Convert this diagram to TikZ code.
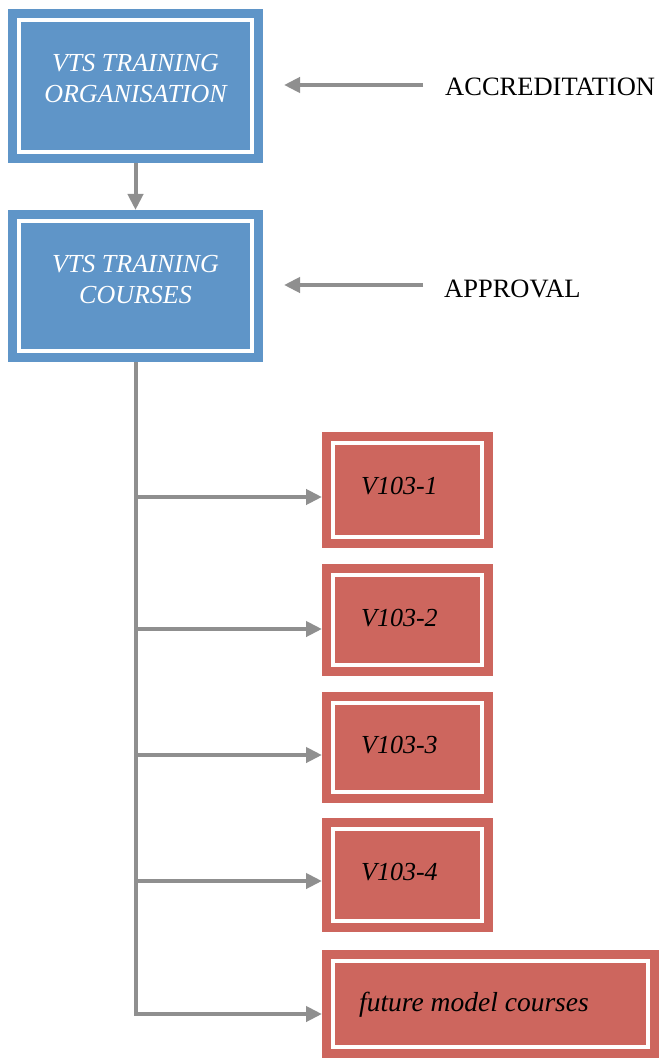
\documentclass[tikz,border=0pt]{standalone}
\usepackage{fontspec}
\setmainfont{Liberation Serif}
\usetikzlibrary{arrows.meta}
\definecolor{boxblue}{HTML}{5F95C8}
\definecolor{boxred}{HTML}{CD665E}
\definecolor{linegray}{HTML}{8F8F8F}
\tikzset{
  framed/.style={inner sep=0pt, outer sep=0pt,
    path picture={\draw[white,line width=4pt]
      ([shift={(11pt,-11pt)}]path picture bounding box.north west) rectangle
      ([shift={(-11pt,11pt)}]path picture bounding box.south east);}},
  bluebox/.style={framed, fill=boxblue},
  redbox/.style={framed, fill=boxred},
  btext/.style={text=white, inner sep=0pt, anchor=base, font=\fontsize{26}{31}\selectfont\itshape},
  rtext/.style={text=black, inner sep=0pt, anchor=base west, font=\fontsize{26}{31}\selectfont\itshape},
  ptext/.style={text=black, inner sep=0pt, anchor=base west, font=\fontsize{26.5}{31}\selectfont},
  conn/.style={draw=linegray, line width=4pt, line join=miter, -{Triangle[length=16pt,width=15pt]}}
}
\begin{document}
\begin{tikzpicture}[x=1pt,y=-1pt]
\path[use as bounding box] (0,0) rectangle (660,1059);
% blue boxes
\node[bluebox, minimum width=255pt, minimum height=154pt] (b1) at (135.5,86) {};
\node[bluebox, minimum width=255pt, minimum height=152pt] (b2) at (135.5,286) {};
\node[btext] (t1a) at (135.5,72) {VTS TRAINING};
\node[btext] (t1b) at (135.5,103) {ORGANISATION};
\node[btext] (t2a) at (135.5,272) {VTS TRAINING};
\node[btext] (t2b) at (135.5,303) {COURSES};
% side labels
\node[ptext] (acc) at (445,96) {ACCREDITATION};
\node[ptext] (app) at (444,297) {APPROVAL};
\coordinate (a1s) at (423,85);
\coordinate (a1e) at (284,85);
\coordinate (a2s) at (423,285);
\coordinate (a2e) at (284,285);
\draw[conn] (a1s) -- (a1e);
\draw[conn] (a2s) -- (a2e);
\draw[conn] (b1.south) -- (b2.north);
% red boxes
\node[redbox, minimum width=171pt, minimum height=116pt] (v1) at (407.5,490) {};
\node[redbox, minimum width=171pt, minimum height=112pt] (v2) at (407.5,620) {};
\node[redbox, minimum width=171pt, minimum height=111pt] (v3) at (407.5,747.5) {};
\node[redbox, minimum width=171pt, minimum height=114pt] (v4) at (407.5,875) {};
\node[redbox, minimum width=337pt, minimum height=108pt] (fut) at (490.5,1004) {};
\node[rtext] (r1) at (361,494) {V103-1};
\node[rtext] (r2) at (361,626) {V103-2};
\node[rtext] (r3) at (361,753) {V103-3};
\node[rtext] (r4) at (361,880) {V103-4};
\node[rtext, font=\fontsize{27.5}{31}\selectfont\itshape] (r5) at (359,1011) {future model courses};
% trunk and branches
\coordinate (j1) at (135.5,497);
\coordinate (j2) at (135.5,629);
\coordinate (j3) at (135.5,755);
\coordinate (j4) at (135.5,881);
\coordinate (j5) at (135.5,1014);
\draw[conn] (b2.south) -- (j5) -- (j5 -| fut.west);
\draw[conn] (j1) -- (j1 -| v1.west);
\draw[conn] (j2) -- (j2 -| v2.west);
\draw[conn] (j3) -- (j3 -| v3.west);
\draw[conn] (j4) -- (j4 -| v4.west);
\end{tikzpicture}
\end{document}
